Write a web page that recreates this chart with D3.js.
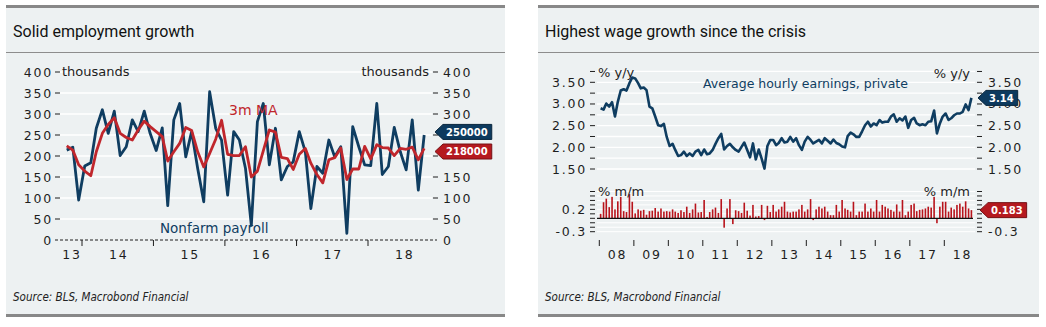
<!DOCTYPE html>
<meta charset="utf-8">
<body style="margin: 0; overflow: hidden; background: #fff">
<script src="https://d3js.org/d3.v7.min.js"></script>
<script>
var width = 1046, height = 327;

// nonfarm payrolls, monthly change (thousands), Oct 2013 .. Oct 2018
var nfpStart = [2013, 9];
var nfp = [214, 221, 95,
    176, 184, 266, 310, 254, 307, 201, 222, 286, 258, 307, 254,
    213, 267, 82, 286, 325, 198, 258, 170, 91, 353, 266, 238,
    107, 258, 238, 171, 35, 282, 325, 179, 266, 143, 175, 186,
    258, 210, 75, 175, 159, 238, 198, 222, 16, 270, 222, 179,
    177, 325, 156, 175, 268, 210, 167, 286, 119, 250];
var nfpMA = [224, 214, 179,
    164, 153, 210, 254, 275, 291, 254, 244, 238, 262, 283, 270,
    258, 246, 188, 210, 230, 268, 261, 210, 174, 206, 240, 285,
    204, 201, 201, 222, 150, 164, 212, 262, 257, 197, 194, 168,
    204, 218, 183, 156, 136, 191, 196, 219, 144, 169, 169, 223,
    193, 227, 220, 219, 201, 218, 216, 221, 191, 218];
var nfpTicks = [0, 50, 100, 150, 200, 250, 300, 350, 400];
var nfpYears = [2013, 2014, 2015, 2016, 2017, 2018];

// average hourly earnings, private, Jan 2008 .. Oct 2018
var aheStart = [2008, 0];
var aheYoY = [2.90, 2.87, 3.01, 2.94, 3.04, 2.71, 3.05, 3.31, 3.34, 3.31, 3.48, 3.61,
    3.59, 3.48, 3.36, 3.38, 3.32, 2.94, 2.90, 2.71, 2.51, 2.49, 2.54, 2.24,
    2.03, 2.08, 1.94, 1.80, 1.82, 1.90, 1.80, 1.86, 1.80, 1.90, 1.94, 1.82,
    1.95, 1.84, 1.86, 1.94, 2.08, 2.21, 2.31, 1.95, 2.03, 2.08, 2.00, 1.94,
    1.90, 2.01, 2.11, 1.94, 1.77, 2.09, 1.72, 1.95, 1.74, 1.51, 2.03, 2.17,
    2.17, 2.05, 2.10, 2.21, 2.11, 2.13, 2.24, 2.13, 2.21, 2.05, 1.94, 2.13,
    2.24, 2.17, 2.09, 2.13, 2.17, 2.09, 2.21, 2.15, 2.09, 2.18, 2.10, 2.07,
    2.02, 2.00, 2.26, 2.34, 2.30, 2.24, 2.24, 2.37, 2.51, 2.59, 2.48, 2.55,
    2.51, 2.63, 2.57, 2.59, 2.59, 2.71, 2.76, 2.59, 2.67, 2.62, 2.71, 2.45,
    2.63, 2.68, 2.55, 2.51, 2.53, 2.51, 2.59, 2.60, 2.85, 2.32, 2.55, 2.71,
    2.78, 2.63, 2.67, 2.74, 2.78, 2.78, 2.82, 2.99, 2.86, 3.14];
var aheMoM = [0.10, 0.36, 0.44, 0.25, 0.48, 0.20, 0.38, 0.48, 0.16, 0.14, 0.54, 0.37,
    0.11, 0.20, 0.17, 0.19, 0.08, 0.16, 0.17, 0.23, 0.15, 0.22, 0.15, 0.16,
    0.15, 0.20, 0.15, 0.12, 0.18, 0.14, 0.26, 0.12, 0.20, 0.33, 0.13, 0.14,
    0.41, 0.03, 0.14, 0.20, 0.24, 0.12, 0.43, -0.21, 0.22, 0.43, -0.13, 0.18,
    0.16, 0.12, 0.35, 0.17, 0.06, 0.30, 0.04, 0.05, 0.30, -0.04, 0.28, 0.14,
    0.30, 0.15, 0.20, 0.26, 0.37, 0.15, 0.13, 0.15, 0.15, 0.20, 0.30, 0.15,
    0.20, 0.43, -0.04, 0.20, 0.26, 0.22, 0.26, 0.15, 0.07, 0.07, 0.30, 0.15,
    0.41, 0.22, 0.19, 0.15, 0.37, 0.07, 0.15, 0.15, 0.33, 0.15, 0.22, 0.15,
    0.41, 0.15, 0.30, 0.26, 0.22, 0.19, 0.15, 0.31, 0.15, 0.41, 0.07, 0.15,
    0.30, 0.33, 0.16, 0.19, 0.20, 0.22, 0.26, 0.24, 0.48, -0.11, 0.26, 0.37,
    0.37, 0.15, 0.24, 0.20, 0.30, 0.33, 0.26, 0.38, 0.22, 0.183];
var yoyTicks = [1.5, 1.75, 2, 2.25, 2.5, 2.75, 3, 3.25, 3.5, 3.75];
var yoyLabels = [1.5, 2, 2.5, 3, 3.5];
var momTicks = [-0.3, -0.2, -0.1, 0, 0.1, 0.2, 0.3, 0.4, 0.5, 0.6];
var momLabels = [-0.3, 0.2];
var aheYears = [2008, 2009, 2010, 2011, 2012, 2013, 2014, 2015, 2016, 2017, 2018];

var navy = "#0f3d61", red = "#c0262c", ink = "#1e1e1e";
var tickFont = "'DejaVu Sans', sans-serif";

var months = function (start, n) {
    return d3.range(n).map(function (i) { return new Date(start[0], start[1] + i, 15); });
};

var svg = d3.select("body").append("svg")
    .attr("width", width).attr("height", height)
    .style("font-family", tickFont);

// panel frames
[{x: 6, w: 499, title: "Solid employment growth"},
 {x: 538, w: 501, title: "Highest wage growth since the crisis"}].forEach(function (p) {
    svg.append("rect").attr("x", p.x).attr("y", 5).attr("width", p.w).attr("height", 312).attr("fill", "#edf1f2");
    svg.append("rect").attr("x", p.x).attr("y", 5).attr("width", p.w).attr("height", 3).attr("fill", "#888");
    svg.append("rect").attr("x", p.x).attr("y", 52).attr("width", p.w).attr("height", 1).attr("fill", "#8d8d8d");
    svg.append("rect").attr("x", p.x).attr("y", 314).attr("width", p.w).attr("height", 3).attr("fill", "#888");
    svg.append("text").attr("x", p.x + 7).attr("y", 37).attr("fill", "#111")
        .style("font-family", "Roboto, sans-serif").style("font-size", "16px").text(p.title);
    svg.append("text").attr("x", p.x + 7).attr("y", 301).attr("fill", "#222")
        .style("font-family", "'DejaVu Sans Condensed', 'Liberation Sans Narrow', sans-serif")
        .style("font-size", "11.5px").style("font-style", "italic")
        .text("Source: BLS, Macrobond Financial");
});

var tickText = function (sel) {
    sel.attr("fill", ink).style("font-size", "12.5px").style("letter-spacing", "1.8px");
};

// value tag with a left-pointing arrow; returns its vertical extent
var tag = function (xTip, yc, label, fill) {
    var g = svg.append("g");
    var t = g.append("text").attr("x", xTip + 11).attr("y", yc).attr("dy", "0.36em")
        .attr("fill", "#fff").style("font-size", "10px").style("font-weight", "bold").text(label);
    var w = t.node().getComputedTextLength() + 7;
    g.insert("path", "text")
        .attr("d", "M" + xTip + "," + yc + "L" + (xTip + 8) + "," + (yc - 7.5) + "H" + (xTip + 8 + w) +
            "V" + (yc + 7.5) + "H" + (xTip + 8) + "Z")
        .attr("fill", fill).attr("stroke", d3.color(fill).darker(1.2)).attr("stroke-width", 1);
    return [yc - 8, yc + 8];
};
var clear = function (spans) {
    return function (y) {
        return !spans.some(function (s) { return y > s[0] && y < s[1]; });
    };
};

// ---- left: payrolls ----
var L = {x0: 60, x1: 432};
var xL = d3.scaleTime().domain([new Date(2014, 0, 1), new Date(2018, 0, 1)]).range([82, 368]);
var yL = d3.scaleLinear().domain([0, 400]).range([240, 72]);
var nfpDates = months(nfpStart, nfp.length);

var lastN = nfp[nfp.length - 1], lastMA = nfpMA[nfpMA.length - 1];
var mid = (yL(lastN) + yL(lastMA)) / 2;
var tagsL = [[mid - 17.8, mid - 1.8], [mid + 1.8, mid + 17.8]];

var gl = svg.append("g");
gl.selectAll(".grid").data(nfpTicks.slice(1)).enter().append("line")
    .attr("x1", L.x0).attr("x2", L.x1).attr("y1", yL).attr("y2", yL)
    .attr("stroke", "#fff").attr("stroke-width", 1.3);
gl.selectAll(".tl").data(nfpTicks.slice(1)).enter().append("line")
    .attr("x1", 55).attr("x2", 60).attr("y1", yL).attr("y2", yL).attr("stroke", ink);
gl.selectAll(".tr").data(nfpTicks.slice(1)).enter().append("line")
    .attr("x1", 433).attr("x2", 438).attr("y1", yL).attr("y2", yL).attr("stroke", ink);
gl.selectAll(".ll").data(nfpTicks).enter().append("text")
    .attr("x", 53).attr("y", yL).attr("dy", "0.36em").attr("text-anchor", "end")
    .call(tickText).text(function (d) { return d; });
gl.selectAll(".lr").data(nfpTicks.filter(function (d) { return clear(tagsL)(yL(d)); })).enter().append("text")
    .attr("x", 443).attr("y", yL).attr("dy", "0.36em")
    .call(tickText).text(function (d) { return d; });
gl.append("line").attr("x1", 55).attr("x2", 437).attr("y1", yL(0)).attr("y2", yL(0))
    .attr("stroke", ink).attr("stroke-dasharray", "3,2");
gl.selectAll(".yt").data(nfpYears.slice(1)).enter().append("line")
    .attr("x1", function (d) { return xL(new Date(d, 0, 1)); })
    .attr("x2", function (d) { return xL(new Date(d, 0, 1)); })
    .attr("y1", 240).attr("y2", 246).attr("stroke", ink);
gl.selectAll(".yl").data(nfpYears).enter().append("text")
    .attr("x", function (d) {
        var a = Math.max(L.x0, xL(new Date(d, 0, 1))), b = Math.min(440, xL(new Date(d + 1, 0, 1)));
        return (a + b) / 2 + 1;
    })
    .attr("y", 259).attr("text-anchor", "middle").call(tickText)
    .text(function (d) { return String(d).slice(2); });
gl.append("text").attr("x", 62).attr("y", 76).attr("fill", ink).style("font-size", "13px").text("thousands");
gl.append("text").attr("x", 429).attr("y", 76).attr("text-anchor", "end").attr("fill", ink)
    .style("font-size", "13px").text("thousands");

var lineL = d3.line().x(function (d, i) { return xL(nfpDates[i]); }).y(function (d) { return yL(d); });
gl.append("path").datum(nfp).attr("d", lineL).attr("fill", "none")
    .attr("stroke", navy).attr("stroke-width", 2.8).attr("stroke-linejoin", "round");
gl.append("path").datum(nfpMA).attr("d", lineL).attr("fill", "none")
    .attr("stroke", red).attr("stroke-width", 2.8).attr("stroke-linejoin", "round");
gl.append("text").attr("x", 229).attr("y", 115).attr("fill", red).style("font-size", "14px").text("3m MA");
gl.append("text").attr("x", 160).attr("y", 233).attr("fill", navy).style("font-size", "13.5px").text("Nonfarm payroll");

// value tags, spread apart so they don't overlap
tag(435, mid - 9.8, lastN * 1000, "#0d3a5e");
tag(435, mid + 9.8, lastMA * 1000, "#b5191f");

// ---- right: hourly earnings ----
var R = {x0: 597, x1: 975};
var xR = d3.scaleTime().domain([new Date(2008, 0, 1), new Date(2018, 0, 1)]).range([599.3, 944.3]);
var yT = d3.scaleLinear().domain([1.5, 3.5]).range([169, 82.3]);
var yB = d3.scaleLinear().domain([-0.3, 0.6]).range([231.7, 191.5]);
var aheDates = months(aheStart, aheYoY.length);
var fmt2 = d3.format(".2f");
var fmt1 = function (d) { return d3.format(".1f")(d).replace("\u2212", "-"); };
var lastY = aheYoY[aheYoY.length - 1], lastM = aheMoM[aheMoM.length - 1];
var tagsR = [[yB(lastM) - 8, yB(lastM) + 8]];

var gr = svg.append("g");
gr.selectAll(".gt").data(yoyTicks).enter().append("line")
    .attr("x1", R.x0).attr("x2", R.x1).attr("y1", yT).attr("y2", yT)
    .attr("stroke", "#fff").attr("stroke-width", 1.3);
gr.selectAll(".gb").data(momTicks).enter().append("line")
    .attr("x1", R.x0).attr("x2", R.x1).attr("y1", yB).attr("y2", yB)
    .attr("stroke", "#fff").attr("stroke-width", 1);
[[yT, yoyTicks], [yB, momTicks]].forEach(function (s) {
    gr.selectAll(null).data(s[1]).enter().append("line")
        .attr("x1", 590).attr("x2", 595).attr("y1", s[0]).attr("y2", s[0]).attr("stroke", ink);
    gr.selectAll(null).data(s[1]).enter().append("line")
        .attr("x1", 977).attr("x2", 982).attr("y1", s[0]).attr("y2", s[0]).attr("stroke", ink);
});
gr.selectAll(".tl").data(yoyLabels).enter().append("text")
    .attr("x", 587).attr("y", yT).attr("dy", "0.36em").attr("text-anchor", "end")
    .call(tickText).text(fmt2);
gr.selectAll(".tr").data(yoyLabels).enter().append("text")
    .attr("x", 988).attr("y", yT).attr("dy", "0.36em")
    .call(tickText).text(fmt2);
gr.selectAll(".bl").data(momLabels).enter().append("text")
    .attr("x", 587).attr("y", yB).attr("dy", "0.36em").attr("text-anchor", "end")
    .call(tickText).text(fmt1);
gr.selectAll(".br").data(momLabels.filter(function (d) { return clear(tagsR)(yB(d)); })).enter().append("text")
    .attr("x", 988).attr("y", yB).attr("dy", "0.36em")
    .call(tickText).text(fmt1);

gr.selectAll(".yt").data(aheYears).enter().append("line")
    .attr("x1", function (d) { return xR(new Date(d, 0, 1)); })
    .attr("x2", function (d) { return xR(new Date(d, 0, 1)); })
    .attr("y1", 240).attr("y2", 246).attr("stroke", ink);
gr.selectAll(".yl").data(aheYears).enter().append("text")
    .attr("x", function (d) { return xR(new Date(d, 6, 1)) + 1; })
    .attr("y", 259).attr("text-anchor", "middle").call(tickText)
    .text(function (d) { return String(d).slice(2); });

gr.selectAll(".bar").data(aheMoM).enter().append("rect")
    .attr("x", function (d, i) { return xR(aheDates[i]) - 0.8; })
    .attr("width", 1.6)
    .attr("y", function (d) { return yB(Math.max(0, d)); })
    .attr("height", function (d) { return Math.abs(yB(d) - yB(0)); })
    .attr("fill", "#b8141c");
gr.append("line").attr("x1", R.x0).attr("x2", R.x1 - 2).attr("y1", yB(0)).attr("y2", yB(0))
    .attr("stroke", "#111").attr("stroke-width", 1.2);

var lineR = d3.line().x(function (d, i) { return xR(aheDates[i]); }).y(function (d) { return yT(d); });
gr.append("path").datum(aheYoY).attr("d", lineR).attr("fill", "none")
    .attr("stroke", navy).attr("stroke-width", 2.6).attr("stroke-linejoin", "round");

gr.append("text").attr("x", 598).attr("y", 77).attr("fill", ink).style("font-size", "13px").text("% y/y");
gr.append("text").attr("x", 970).attr("y", 78).attr("text-anchor", "end").attr("fill", ink)
    .style("font-size", "13px").text("% y/y");
gr.append("text").attr("x", 598).attr("y", 196).attr("fill", ink).style("font-size", "13px").text("% m/m");
gr.append("text").attr("x", 970).attr("y", 196).attr("text-anchor", "end").attr("fill", ink)
    .style("font-size", "13px").text("% m/m");
gr.append("text").attr("x", 703).attr("y", 88).attr("fill", navy).style("font-size", "12.5px")
    .text("Average hourly earnings, private");

tag(978, yT(lastY), fmt2(lastY), "#0d3a5e");
tag(980, yB(lastM), String(lastM), "#b5191f");
</script>
